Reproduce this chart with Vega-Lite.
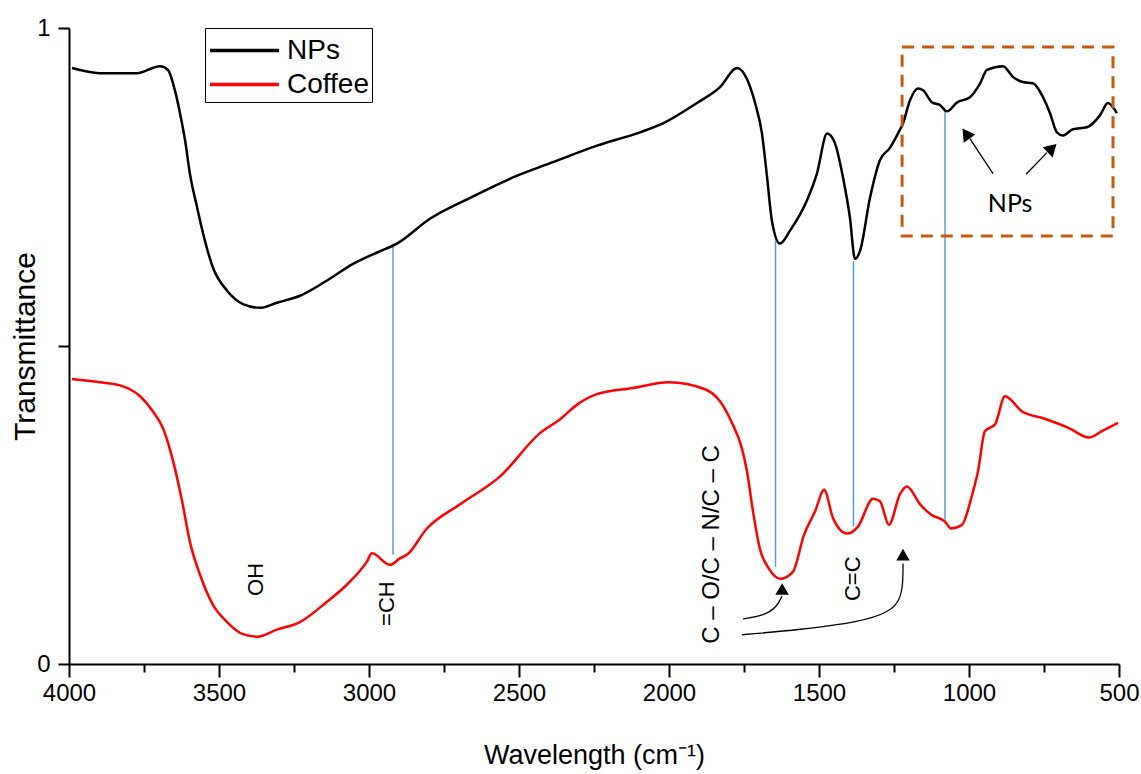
{
  "$schema": "https://vega.github.io/schema/vega-lite/v6.json",
  "width": 1050,
  "height": 636,
  "autosize": {"type": "none"},
  "padding": {"left": 69, "top": 28, "right": 22, "bottom": 110},
  "background": "white",
  "config": {"view": {"stroke": null}, "font": "Liberation Sans"},
  "datasets": {
    "spectra": [
      {"series": "NPs", "w": 3990, "v": 0.937}, {"series": "NPs", "w": 3897, "v": 0.929}, {"series": "NPs", "w": 3773, "v": 0.929},
      {"series": "NPs", "w": 3697, "v": 0.940}, {"series": "NPs", "w": 3670, "v": 0.934}, {"series": "NPs", "w": 3647, "v": 0.902},
      {"series": "NPs", "w": 3630, "v": 0.866}, {"series": "NPs", "w": 3613, "v": 0.823}, {"series": "NPs", "w": 3597, "v": 0.771},
      {"series": "NPs", "w": 3573, "v": 0.718}, {"series": "NPs", "w": 3553, "v": 0.677}, {"series": "NPs", "w": 3520, "v": 0.623},
      {"series": "NPs", "w": 3473, "v": 0.587}, {"series": "NPs", "w": 3420, "v": 0.566}, {"series": "NPs", "w": 3363, "v": 0.560},
      {"series": "NPs", "w": 3307, "v": 0.568}, {"series": "NPs", "w": 3230, "v": 0.579}, {"series": "NPs", "w": 3140, "v": 0.603},
      {"series": "NPs", "w": 3053, "v": 0.629}, {"series": "NPs", "w": 2973, "v": 0.647}, {"series": "NPs", "w": 2907, "v": 0.661},
      {"series": "NPs", "w": 2797, "v": 0.700}, {"series": "NPs", "w": 2663, "v": 0.733}, {"series": "NPs", "w": 2520, "v": 0.765},
      {"series": "NPs", "w": 2387, "v": 0.789}, {"series": "NPs", "w": 2240, "v": 0.815}, {"series": "NPs", "w": 2097, "v": 0.836},
      {"series": "NPs", "w": 2020, "v": 0.850}, {"series": "NPs", "w": 1907, "v": 0.882}, {"series": "NPs", "w": 1830, "v": 0.907},
      {"series": "NPs", "w": 1773, "v": 0.937}, {"series": "NPs", "w": 1747, "v": 0.926}, {"series": "NPs", "w": 1713, "v": 0.882},
      {"series": "NPs", "w": 1690, "v": 0.834}, {"series": "NPs", "w": 1673, "v": 0.765}, {"series": "NPs", "w": 1657, "v": 0.697},
      {"series": "NPs", "w": 1630, "v": 0.661}, {"series": "NPs", "w": 1597, "v": 0.681}, {"series": "NPs", "w": 1540, "v": 0.729},
      {"series": "NPs", "w": 1507, "v": 0.771}, {"series": "NPs", "w": 1473, "v": 0.834}, {"series": "NPs", "w": 1447, "v": 0.819},
      {"series": "NPs", "w": 1420, "v": 0.765}, {"series": "NPs", "w": 1397, "v": 0.702}, {"series": "NPs", "w": 1380, "v": 0.637},
      {"series": "NPs", "w": 1363, "v": 0.650}, {"series": "NPs", "w": 1330, "v": 0.733}, {"series": "NPs", "w": 1297, "v": 0.792},
      {"series": "NPs", "w": 1263, "v": 0.812}, {"series": "NPs", "w": 1237, "v": 0.834}, {"series": "NPs", "w": 1220, "v": 0.850},
      {"series": "NPs", "w": 1197, "v": 0.886}, {"series": "NPs", "w": 1170, "v": 0.905}, {"series": "NPs", "w": 1153, "v": 0.902},
      {"series": "NPs", "w": 1123, "v": 0.883}, {"series": "NPs", "w": 1097, "v": 0.879}, {"series": "NPs", "w": 1073, "v": 0.869},
      {"series": "NPs", "w": 1040, "v": 0.883}, {"series": "NPs", "w": 997, "v": 0.891}, {"series": "NPs", "w": 963, "v": 0.913},
      {"series": "NPs", "w": 940, "v": 0.934}, {"series": "NPs", "w": 887, "v": 0.940}, {"series": "NPs", "w": 853, "v": 0.923},
      {"series": "NPs", "w": 820, "v": 0.915}, {"series": "NPs", "w": 787, "v": 0.913}, {"series": "NPs", "w": 753, "v": 0.891},
      {"series": "NPs", "w": 730, "v": 0.866}, {"series": "NPs", "w": 707, "v": 0.836}, {"series": "NPs", "w": 687, "v": 0.831},
      {"series": "NPs", "w": 653, "v": 0.841}, {"series": "NPs", "w": 607, "v": 0.844}, {"series": "NPs", "w": 563, "v": 0.863},
      {"series": "NPs", "w": 537, "v": 0.882}, {"series": "NPs", "w": 507, "v": 0.866},
      {"series": "Coffee", "w": 3990, "v": 0.448}, {"series": "Coffee", "w": 3897, "v": 0.443}, {"series": "Coffee", "w": 3830, "v": 0.438},
      {"series": "Coffee", "w": 3763, "v": 0.421}, {"series": "Coffee", "w": 3720, "v": 0.397}, {"series": "Coffee", "w": 3687, "v": 0.371},
      {"series": "Coffee", "w": 3653, "v": 0.319}, {"series": "Coffee", "w": 3623, "v": 0.256}, {"series": "Coffee", "w": 3597, "v": 0.192},
      {"series": "Coffee", "w": 3563, "v": 0.140}, {"series": "Coffee", "w": 3520, "v": 0.093}, {"series": "Coffee", "w": 3473, "v": 0.066},
      {"series": "Coffee", "w": 3420, "v": 0.047}, {"series": "Coffee", "w": 3373, "v": 0.043}, {"series": "Coffee", "w": 3307, "v": 0.054},
      {"series": "Coffee", "w": 3230, "v": 0.066}, {"series": "Coffee", "w": 3140, "v": 0.098}, {"series": "Coffee", "w": 3073, "v": 0.125},
      {"series": "Coffee", "w": 3007, "v": 0.161}, {"series": "Coffee", "w": 2990, "v": 0.174}, {"series": "Coffee", "w": 2930, "v": 0.156},
      {"series": "Coffee", "w": 2897, "v": 0.166}, {"series": "Coffee", "w": 2873, "v": 0.172}, {"series": "Coffee", "w": 2807, "v": 0.213},
      {"series": "Coffee", "w": 2697, "v": 0.251}, {"series": "Coffee", "w": 2563, "v": 0.295}, {"series": "Coffee", "w": 2430, "v": 0.363},
      {"series": "Coffee", "w": 2363, "v": 0.385}, {"series": "Coffee", "w": 2303, "v": 0.409}, {"series": "Coffee", "w": 2243, "v": 0.424},
      {"series": "Coffee", "w": 2120, "v": 0.434}, {"series": "Coffee", "w": 2000, "v": 0.443}, {"series": "Coffee", "w": 1880, "v": 0.432},
      {"series": "Coffee", "w": 1830, "v": 0.413}, {"series": "Coffee", "w": 1793, "v": 0.382}, {"series": "Coffee", "w": 1757, "v": 0.339},
      {"series": "Coffee", "w": 1740, "v": 0.303}, {"series": "Coffee", "w": 1720, "v": 0.240}, {"series": "Coffee", "w": 1697, "v": 0.181},
      {"series": "Coffee", "w": 1667, "v": 0.150}, {"series": "Coffee", "w": 1630, "v": 0.134}, {"series": "Coffee", "w": 1587, "v": 0.145},
      {"series": "Coffee", "w": 1550, "v": 0.203}, {"series": "Coffee", "w": 1513, "v": 0.240}, {"series": "Coffee", "w": 1483, "v": 0.274},
      {"series": "Coffee", "w": 1453, "v": 0.229}, {"series": "Coffee", "w": 1407, "v": 0.205}, {"series": "Coffee", "w": 1370, "v": 0.216},
      {"series": "Coffee", "w": 1320, "v": 0.260}, {"series": "Coffee", "w": 1297, "v": 0.256}, {"series": "Coffee", "w": 1267, "v": 0.219},
      {"series": "Coffee", "w": 1230, "v": 0.267}, {"series": "Coffee", "w": 1207, "v": 0.279}, {"series": "Coffee", "w": 1163, "v": 0.251},
      {"series": "Coffee", "w": 1127, "v": 0.235}, {"series": "Coffee", "w": 1080, "v": 0.224}, {"series": "Coffee", "w": 1060, "v": 0.213},
      {"series": "Coffee", "w": 1023, "v": 0.219}, {"series": "Coffee", "w": 993, "v": 0.260}, {"series": "Coffee", "w": 970, "v": 0.303},
      {"series": "Coffee", "w": 947, "v": 0.366}, {"series": "Coffee", "w": 913, "v": 0.377}, {"series": "Coffee", "w": 880, "v": 0.421},
      {"series": "Coffee", "w": 823, "v": 0.397}, {"series": "Coffee", "w": 750, "v": 0.386}, {"series": "Coffee", "w": 667, "v": 0.371},
      {"series": "Coffee", "w": 600, "v": 0.356}, {"series": "Coffee", "w": 557, "v": 0.366}, {"series": "Coffee", "w": 503, "v": 0.379}
    ],
    "bands": [
      {"w": 2920, "v": 0.172, "v2": 0.661},
      {"w": 1645, "v": 0.153, "v2": 0.666},
      {"w": 1385, "v": 0.216, "v2": 0.634},
      {"w": 1080, "v": 0.224, "v2": 0.871}
    ],
    "box": [{"w": 1223, "w2": 520, "v": 0.970, "v2": 0.673}],
    "rotlabels": [
      {"label": "OH", "w": 3377, "v": 0.133},
      {"label": "=CH", "w": 2940, "v": 0.095},
      {"label": "C=C", "w": 1387, "v": 0.134}
    ],
    "bondlabel": [{"label": "C – O/C – N/C – C", "w": 1857, "v": 0.188}],
    "boxlabel": [{"label": "NPs", "w": 863, "v": 0.724}],
    "arrowlines": [
      {"w": 920, "v": 0.771, "w2": 997, "v2": 0.826},
      {"w": 810, "v": 0.770, "w2": 740, "v2": 0.804}
    ],
    "curves": [
      {"arrow": "a", "i": 0, "w": 1753, "v": 0.071}, {"arrow": "a", "i": 1, "w": 1683, "v": 0.076},
      {"arrow": "a", "i": 2, "w": 1640, "v": 0.090}, {"arrow": "a", "i": 3, "w": 1623, "v": 0.107},
      {"arrow": "b", "i": 0, "w": 1757, "v": 0.046}, {"arrow": "b", "i": 1, "w": 1563, "v": 0.054},
      {"arrow": "b", "i": 2, "w": 1363, "v": 0.066}, {"arrow": "b", "i": 3, "w": 1263, "v": 0.082},
      {"arrow": "b", "i": 4, "w": 1230, "v": 0.101}, {"arrow": "b", "i": 5, "w": 1220, "v": 0.125},
      {"arrow": "b", "i": 6, "w": 1220, "v": 0.158}
    ],
    "headsUp": [{"w": 1623, "v": 0.118}, {"w": 1220, "v": 0.172}],
    "headLeft": [{"w": 1010, "v": 0.834}],
    "headRight": [{"w": 723, "v": 0.811}]
  },
  "encoding": {
    "x": {
      "field": "w", "type": "quantitative",
      "scale": {"domain": [500, 4000], "reverse": true, "nice": false, "zero": false},
      "axis": {
        "title": "Wavelength (cm⁻¹)",
        "values": [4000, 3750, 3500, 3250, 3000, 2750, 2500, 2250, 2000, 1750, 1500, 1250, 1000, 750, 500],
        "format": "d",
        "labelExpr": "datum.value % 500 === 0 ? datum.label : ''",
        "tickSize": {"condition": {"test": "datum.value % 500 === 0", "value": 13}, "value": 8},
        "tickWidth": 2, "tickColor": "black",
        "domainWidth": 2, "domainColor": "black",
        "labelFontSize": 24, "labelColor": "black", "labelPadding": 4, "labelFlush": false,
        "labelFont": "Liberation Sans",
        "titleFont": "Liberation Sans", "titleFontSize": 27, "titleFontWeight": "normal", "titleColor": "black",
        "titlePadding": 37, "grid": false
      }
    },
    "y": {
      "field": "v", "type": "quantitative",
      "scale": {"domain": [0, 1], "nice": false, "zero": false},
      "axis": {
        "title": "Transmittance",
        "values": [0, 0.5, 1],
        "format": "~g",
        "labelExpr": "datum.value === 0.5 ? '' : datum.label",
        "tickSize": 11, "tickWidth": 2, "tickColor": "black",
        "domainWidth": 2, "domainColor": "black",
        "labelFontSize": 24, "labelColor": "black", "labelPadding": 8,
        "labelFont": "Liberation Sans",
        "titleFont": "Liberation Sans", "titleFontSize": 30, "titleFontWeight": "normal", "titleColor": "black",
        "titlePadding": -4, "grid": false
      }
    }
  },
  "layer": [
    {
      "data": {"name": "bands"},
      "mark": {"type": "rule", "color": "#5B9BD5", "strokeWidth": 1.5},
      "encoding": {"y2": {"field": "v2"}}
    },
    {
      "data": {"name": "spectra"},
      "mark": {"type": "line", "strokeWidth": 2.5, "interpolate": "monotone"},
      "encoding": {
        "color": {
          "field": "series", "type": "nominal",
          "scale": {"domain": ["NPs", "Coffee"], "range": ["#000000", "#ff0000"]},
          "legend": {
            "orient": "none", "legendX": 136, "legendY": 0, "title": null,
            "symbolType": "M-1,0H2.94", "symbolSize": 1225, "symbolStrokeWidth": 3.5,
            "labelFontSize": 28, "labelFont": "Liberation Sans", "labelColor": "black", "labelOffset": 40,
            "strokeColor": "black", "padding": 3, "rowPadding": 0
          }
        }
      }
    },
    {
      "data": {"name": "box"},
      "mark": {"type": "rect", "fill": null, "fillOpacity": 0, "stroke": "#C55A11", "strokeWidth": 3, "strokeDash": [12, 8]},
      "encoding": {"x2": {"field": "w2"}, "y2": {"field": "v2"}}
    },
    {
      "data": {"name": "rotlabels"},
      "mark": {"type": "text", "angle": 270, "align": "center", "baseline": "middle", "fontSize": 22, "font": "Liberation Sans", "color": "black"},
      "encoding": {"text": {"field": "label"}}
    },
    {
      "data": {"name": "bondlabel"},
      "mark": {"type": "text", "angle": 270, "align": "center", "baseline": "middle", "fontSize": 24, "font": "Liberation Sans", "color": "black"},
      "encoding": {"text": {"field": "label"}}
    },
    {
      "data": {"name": "boxlabel"},
      "mark": {"type": "text", "align": "center", "baseline": "middle", "fontSize": 25, "font": "Lato", "color": "black"},
      "encoding": {"text": {"field": "label"}}
    },
    {
      "data": {"name": "arrowlines"},
      "mark": {"type": "rule", "color": "black", "strokeWidth": 1.3},
      "encoding": {"x2": {"field": "w2"}, "y2": {"field": "v2"}}
    },
    {
      "data": {"name": "curves"},
      "mark": {"type": "line", "color": "black", "strokeWidth": 1.3, "interpolate": "basis"},
      "encoding": {"detail": {"field": "arrow"}, "order": {"field": "i"}}
    },
    {
      "data": {"name": "headsUp"},
      "mark": {"type": "point", "shape": "triangle-up", "filled": true, "color": "black", "size": 180, "opacity": 1},
      "encoding": {}
    },
    {
      "data": {"name": "headLeft"},
      "mark": {"type": "point", "shape": "triangle-up", "filled": true, "color": "black", "size": 200, "opacity": 1, "angle": 325},
      "encoding": {}
    },
    {
      "data": {"name": "headRight"},
      "mark": {"type": "point", "shape": "triangle-up", "filled": true, "color": "black", "size": 200, "opacity": 1, "angle": 46},
      "encoding": {}
    }
  ]
}
